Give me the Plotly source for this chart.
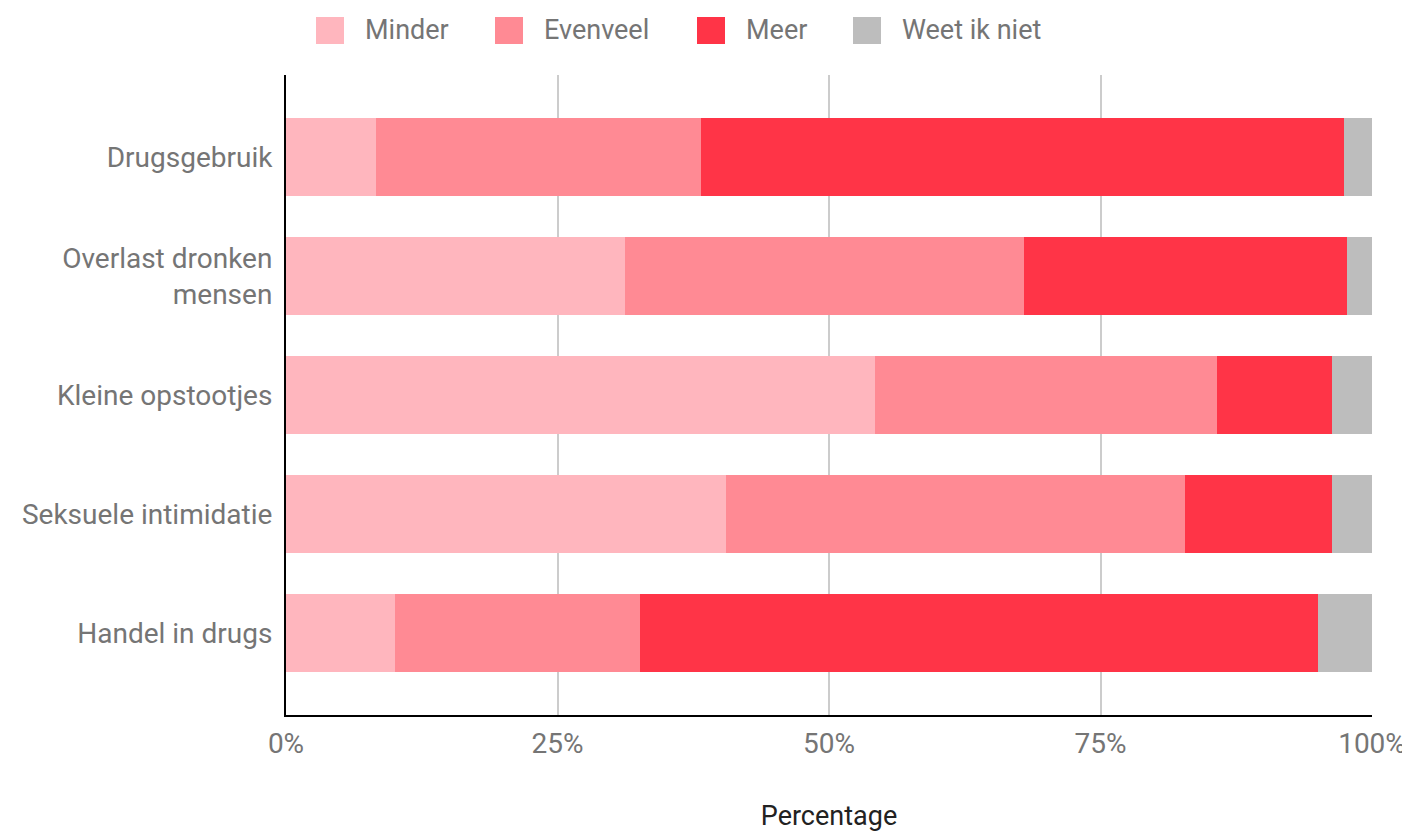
import plotly.graph_objects as go

categories = ["Drugsgebruik", "Overlast dronken<br>mensen", "Kleine opstootjes",
              "Seksuele intimidatie", "Handel in drugs"]
series_names = ["Minder", "Evenveel", "Meer", "Weet ik niet"]
minder = [8.3, 31.2, 54.2, 40.5, 10.0]
evenveel = [29.9, 36.8, 31.5, 42.3, 22.6]
meer = [59.2, 29.7, 10.6, 13.5, 62.4]
weet_ik_niet = [2.6, 2.3, 3.7, 3.7, 5.0]
x_tick_vals = [0, 25, 50, 75, 100]
x_tick_text = ["0%", "25%", "50%", "75%", "100%"]

colors = ["#FFB6BE", "#FF8A94", "#FF3447", "#BDBDBD"]
values = [minder, evenveel, meer, weet_ik_niet]

# page body has an 8px margin; compensate so the plot lands where the reference has it
OFF = 8
W, H = 1410 - OFF, 832 - OFF
ML, MR, MT, MB = 286 - OFF, 38, 75 - OFF, 117
PW, PH = W - ML - MR, H - MT - MB

fig = go.Figure()
for name, vals, col in zip(series_names, values, colors):
    fig.add_trace(go.Bar(
        y=categories, x=vals, name=name, orientation="h",
        marker=dict(color=col, line=dict(width=0)),
        width=0.655, showlegend=False,
    ))

font_col = "#757575"

# custom legend (large swatches like the reference); positions in screen pixels
legend_swatch_px = [316, 495, 697, 853]
shapes, annotations = [], []
def px_x(p):
    return (p - OFF - ML) / PW
def px_y(p):
    return (H - MB - (p - OFF)) / PH
for name, col, sx in zip(series_names, colors, legend_swatch_px):
    shapes.append(dict(type="rect", xref="paper", yref="paper",
                       x0=px_x(sx), x1=px_x(sx + 28), y0=px_y(44), y1=px_y(17),
                       fillcolor=col, line=dict(width=0), layer="above"))
    annotations.append(dict(text=name, xref="paper", yref="paper",
                            x=px_x(sx + 47), y=px_y(30.5), xanchor="left", yanchor="middle",
                            showarrow=False, font=dict(family="Roboto", size=27, color=font_col)))

fig.update_layout(
    barmode="stack",
    width=W, height=H,
    margin=dict(l=ML, r=MR, t=MT, b=MB, autoexpand=False),
    paper_bgcolor="white", plot_bgcolor="white",
    font=dict(family="Roboto", size=27, color=font_col),
    showlegend=False,
    shapes=shapes, annotations=annotations,
    xaxis=dict(range=[0, 100], tickvals=x_tick_vals, ticktext=x_tick_text,
               showgrid=True, gridcolor="#CCCCCC", gridwidth=2,
               zeroline=False, showline=True, linecolor="black", linewidth=2,
               ticks="", ticklabelstandoff=2, automargin=False,
               title=dict(text="Percentage", font=dict(size=27, color="#222222"), standoff=50),
               tickfont=dict(size=28, color=font_col)),
    yaxis=dict(categoryorder="array", categoryarray=categories,
               autorange=False, range=[4.69, -0.69], automargin=False,
               showgrid=False, zeroline=False, showline=True, linecolor="black", linewidth=2,
               ticks="", ticklabelstandoff=6,
               tickfont=dict(size=28, color=font_col)),
)

fig.write_html("out.html")
